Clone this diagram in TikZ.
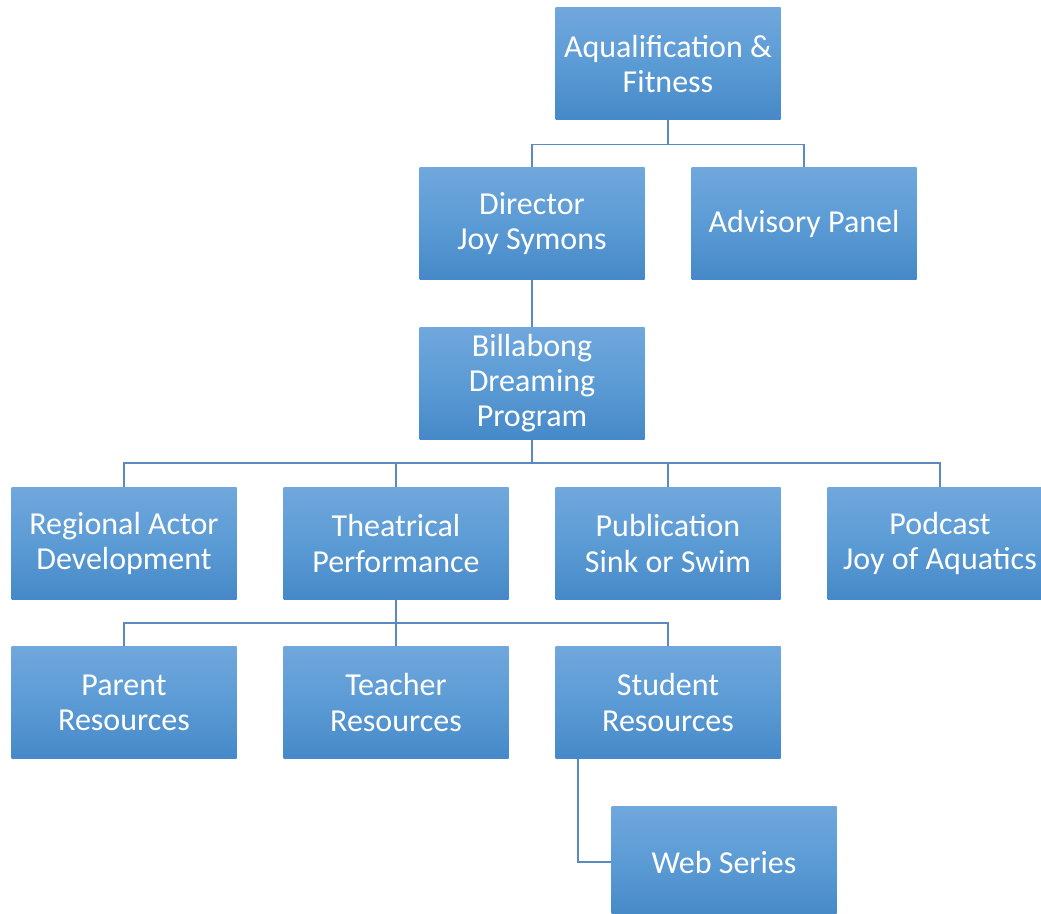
\documentclass[tikz,border=0pt]{standalone}
\usepackage{fontspec}
\setmainfont{Carlito}
\definecolor{boxtop}{RGB}{112,167,221}
\definecolor{boxmid}{RGB}{91,155,213}
\definecolor{boxbot}{RGB}{70,137,200}
\definecolor{conncol}{RGB}{90,138,192}
\begin{document}
\begin{tikzpicture}[x=0.75pt,y=-0.75pt,
  orgbox/.style={rectangle, minimum width=168.75pt, minimum height=84pt, inner sep=0pt,
    top color=boxtop, bottom color=boxbot, middle color=boxmid,
    text=white, align=center, font=\fontsize{24}{26.3}\selectfont},
  conn/.style={draw=conncol, line width=1.1pt}]
\useasboundingbox (0,0) rectangle (1041,913);
\clip (0,0) rectangle (1041,913);
\fill[white] (0,0) rectangle (1041,913);
\node[orgbox] (top) at (668,64) {Aqualification \&\\Fitness};
\node[orgbox] (dir) at (532,223.5) {Director\\Joy Symons};
\node[orgbox] (adv) at (804,223.5) {Advisory Panel};
\node[orgbox] (bill) at (532,383.5) {Billabong\\Dreaming\\Program};
\node[orgbox] (reg) at (124,543.5) {Regional Actor\\Development};
\node[orgbox] (the) at (396,543.5) {Theatrical\\Performance};
\node[orgbox] (pub) at (668,543.5) {Publication\\Sink or Swim};
\node[orgbox] (pod) at (940,543.5) {Podcast\\Joy of Aquatics};
\node[orgbox] (par) at (124,702.5) {Parent\\Resources};
\node[orgbox] (tea) at (396,702.5) {Teacher\\Resources};
\node[orgbox] (stu) at (668,702.5) {Student\\Resources};
\node[orgbox] (web) at (724,862) {Web Series};
\draw[conn] (top.south) -- ++(0,24) -| (dir.north);
\draw[conn] (top.south) -- ++(0,24) -| (adv.north);
\draw[conn] (dir.south) -- (bill.north);
\draw[conn] (bill.south) -- ++(0,23) -| (reg.north);
\draw[conn] (bill.south) -- ++(0,23) -| (the.north);
\draw[conn] (bill.south) -- ++(0,23) -| (pub.north);
\draw[conn] (bill.south) -- ++(0,23) -| (pod.north);
\draw[conn] (the.south) -- ++(0,23) -| (par.north);
\draw[conn] (the.south) -- ++(0,23) -| (tea.north);
\draw[conn] (the.south) -- ++(0,23) -| (stu.north);
\coordinate (stuL) at ([xshift=-67.5pt]stu.south);
\draw[conn] (stuL) |- (web.west);
\end{tikzpicture}
\end{document}
